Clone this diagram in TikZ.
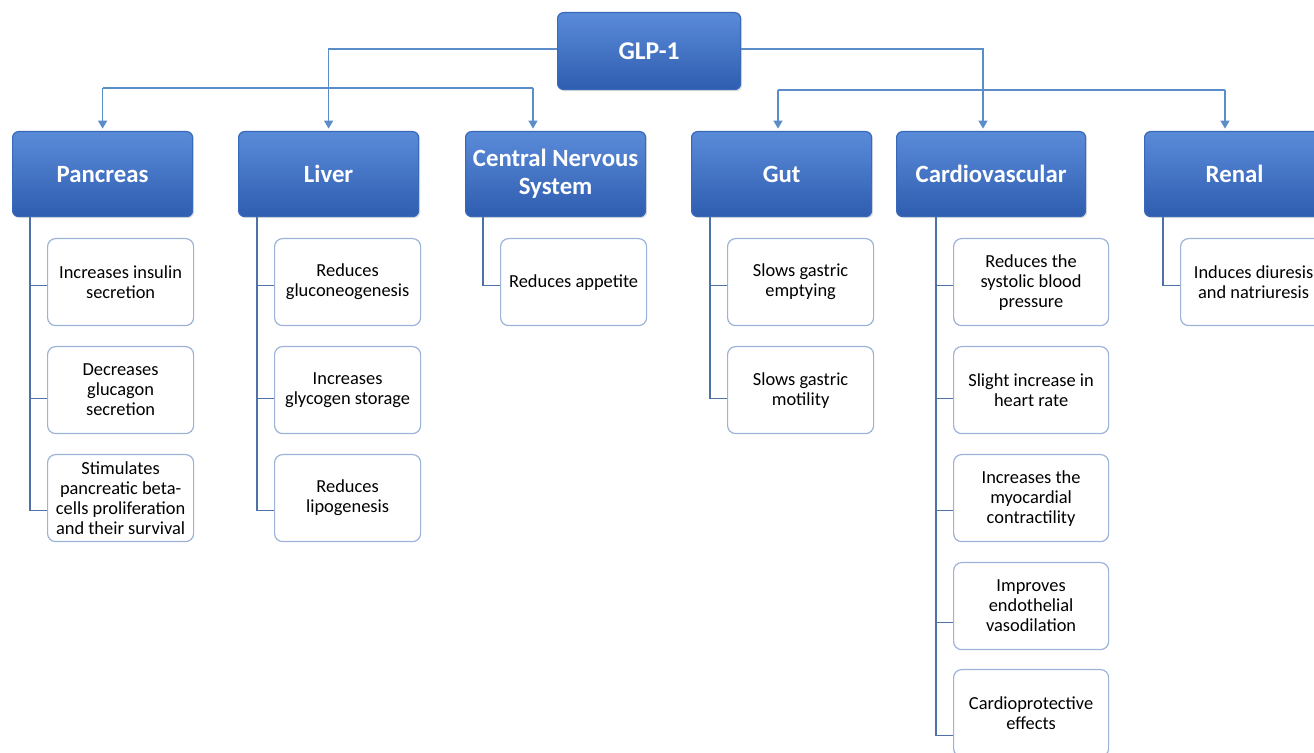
\documentclass[tikz,border=0pt]{standalone}
\usepackage{fontspec}
\setmainfont{Carlito}
\usetikzlibrary{arrows.meta,shadows,calc}
\definecolor{connc}{HTML}{5B8EC8}
\definecolor{hdrtop}{HTML}{5A8BD9}
\definecolor{hdrbot}{HTML}{2F5DB0}
\definecolor{hdrline}{HTML}{3A68B8}
\definecolor{leafline}{HTML}{9CB3D8}
\definecolor{treeline}{HTML}{4E72A8}
\tikzset{
  hdr/.style={anchor=north west, rounded corners=3pt, top color=hdrtop, bottom color=hdrbot,
    draw=hdrline, line width=0.6pt, text=white, font=\fontsize{12.4}{14}\selectfont\bfseries,
    align=center, minimum height=42.5pt, minimum width=90pt, inner sep=1pt,
    drop shadow={shadow xshift=0.8pt, shadow yshift=-0.8pt, opacity=0.25}},
  leaf/.style={anchor=north west, rounded corners=4pt, fill=white, draw=leafline, line width=0.6pt,
    font=\fontsize{9.2}{10}\selectfont, align=center, minimum height=43.5pt, minimum width=73pt, inner sep=1pt},
  arr/.style={draw=connc, line width=0.8pt, -{Triangle[length=4pt,width=4.5pt]}, shorten >=1.2pt},
  bus/.style={draw=connc, line width=0.8pt},
  tree/.style={draw=treeline, line width=0.6pt},
}
\begin{document}
\begin{tikzpicture}[x=0.5pt,y=-0.5pt]
\clip (0,0) rectangle (1314,753);
\fill[white] (0,0) rectangle (1314,753);

% top node
\node[hdr, minimum width=91.5pt, minimum height=38.5pt, font=\fontsize{12.8}{14}\selectfont\bfseries] (glp) at (557,12) {GLP-1};

% headers
\node[hdr] (pan) at (12,131) {Pancreas};
\node[hdr] (liv) at (238,131) {Liver};
\node[hdr] (cns) at (465,131) {Central Nervous\\System};
\node[hdr] (gut) at (691,131) {Gut};
\node[hdr, minimum width=94.5pt] (car) at (896,131) {Cardiovascular};
\node[hdr] (ren) at (1144,131) {Renal};

% leaves
\node[leaf] (p1) at (47,238) {Increases insulin\\secretion};
\node[leaf] (p2) at (47,346) {Decreases\\glucagon\\secretion};
\node[leaf] (p3) at (47,454) {Stimulates\\pancreatic beta-\\cells proliferation\\and their survival};

\node[leaf] (l1) at (274,238) {Reduces\\gluconeogenesis};
\node[leaf] (l2) at (274,346) {Increases\\glycogen storage};
\node[leaf] (l3) at (274,454) {Reduces\\lipogenesis};

\node[leaf] (c1) at (500,238) {Reduces appetite};

\node[leaf] (g1) at (727,238) {Slows gastric\\emptying};
\node[leaf] (g2) at (727,346) {Slows gastric\\motility};

\node[leaf, minimum width=77.5pt] (v1) at (953,238) {Reduces the\\systolic blood\\pressure};
\node[leaf, minimum width=77.5pt] (v2) at (953,346) {Slight increase in\\heart rate};
\node[leaf, minimum width=77.5pt] (v3) at (953,454) {Increases the\\myocardial\\contractility};
\node[leaf, minimum width=77.5pt] (v4) at (953,562) {Improves\\endothelial\\vasodilation};
\node[leaf, minimum width=77.5pt] (v5) at (953,669) {Cardioprotective\\effects};

\node[leaf] (r1) at (1180,238) {Induces diuresis\\and natriuresis};

% top connectors
\coordinate (lb) at (0,88);
\coordinate (rb) at (0,90);
\coordinate (xc) at (533,0);
\coordinate (xg) at (778,0);
\coordinate (xv) at (983,0);
\coordinate (xr) at (1225,0);

\draw[arr] ([yshift=1pt]glp.west) -| (liv.north);
\draw[bus] (lb -| pan.north) -- (lb -| xc);
\draw[arr] (lb -| pan.north) -- (pan.north);
\draw[arr] (lb -| xc) -- (cns.north -| xc);

\draw[arr] ([yshift=1pt]glp.east) -| (car.north -| xv);
\draw[bus] (rb -| xg) -- (rb -| xr);
\draw[arr] (rb -| xg) -- (gut.north -| xg);
\draw[arr] (rb -| xr) -- (ren.north -| xr);

% tree connectors
\coordinate (pv) at ($(p1.west)+(-17,0)$);
\coordinate (lv) at ($(l1.west)+(-17,0)$);
\coordinate (cv) at ($(c1.west)+(-17,0)$);
\coordinate (gv) at ($(g1.west)+(-17,0)$);
\coordinate (vv) at ($(v1.west)+(-17,0)$);
\coordinate (rv) at ($(r1.west)+(-17,0)$);

\draw[tree] (pan.south -| pv) |- ([yshift=-1.75pt]p1.west);
\draw[tree] (pan.south -| pv) |- ([yshift=-4.25pt]p2.west);
\draw[tree] (pan.south -| pv) |- ([yshift=-6.25pt]p3.west);

\draw[tree] (liv.south -| lv) |- ([yshift=-1.75pt]l1.west);
\draw[tree] (liv.south -| lv) |- ([yshift=-4.25pt]l2.west);
\draw[tree] (liv.south -| lv) |- ([yshift=-6.25pt]l3.west);

\draw[tree] (cns.south -| cv) |- ([yshift=-1.75pt]c1.west);

\draw[tree] (gut.south -| gv) |- ([yshift=-1.75pt]g1.west);
\draw[tree] (gut.south -| gv) |- ([yshift=-4.25pt]g2.west);

\draw[tree] (car.south -| vv) |- ([yshift=-1.75pt]v1.west);
\draw[tree] (car.south -| vv) |- ([yshift=-4.25pt]v2.west);
\draw[tree] (car.south -| vv) |- ([yshift=-6.25pt]v3.west);
\draw[tree] (car.south -| vv) |- ([yshift=-8.25pt]v4.west);
\draw[tree] (car.south -| vv) |- ([yshift=-11.25pt]v5.west);

\draw[tree] (ren.south -| rv) |- ([yshift=-1.75pt]r1.west);
\end{tikzpicture}
\end{document}
